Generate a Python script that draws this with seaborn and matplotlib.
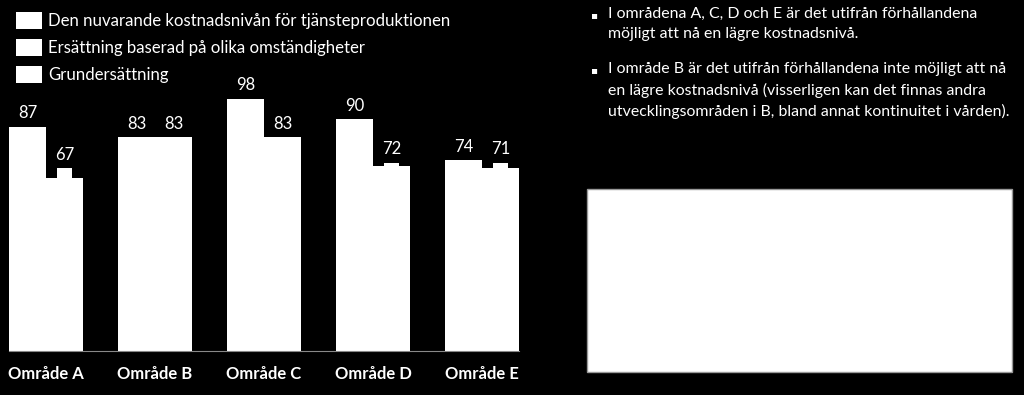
import numpy as np
import pandas as pd
import matplotlib.pyplot as plt
import seaborn as sns
from matplotlib.patches import Patch, Rectangle

# data
omraden = ['Område A', 'Område B', 'Område C', 'Område D', 'Område E']
nuvarande = [87, 83, 98, 90, 74]
ersattning = [67, 83, 83, 72, 71]
grund = [71, 73, 73, 73, 73]
serier = ['Den nuvarande kostnadsnivån för tjänsteproduktionen',
          'Ersättning baserad på olika omständigheter',
          'Grundersättning']
punkter = ['I områdena A, C, D och E är det utifrån förhållandena\nmöjligt att nå en lägre kostnadsnivå.',
           'I område B är det utifrån förhållandena inte möjligt att nå\nen lägre kostnadsnivå (visserligen kan det finnas andra\nutvecklingsområden i B, bland annat kontinuitet i vården).']

df = pd.DataFrame({'Område': omraden * 2,
                   'Serie': [serier[0]] * 5 + [serier[1]] * 5,
                   'Värde': nuvarande + ersattning})

plt.rcParams['font.family'] = ['Lato', 'DejaVu Sans']
W, H = 1024, 395
fig = plt.figure(figsize=(W / 100, H / 100), dpi=100)
fig.set_facecolor('black')

ax = fig.add_axes([0, 44 / H, 560 / W, 351 / H])
ax.set_facecolor('black')
sns.barplot(data=df, x='Område', y='Värde', hue='Serie', palette=['white', 'white'],
            width=0.68, edgecolor='none', linewidth=0, legend=False, ax=ax)
x = np.arange(len(omraden))
ax.bar(x + 0.17, grund, width=0.13, color='white', linewidth=0)

# value labels
for i in range(len(omraden)):
    ax.annotate(str(nuvarande[i]), (i - 0.17, nuvarande[i]), xytext=(0, 4),
                textcoords='offset points', ha='center', va='bottom', color='white', fontsize=12)
    top = max(ersattning[i], grund[i])
    ax.annotate(str(ersattning[i]), (i + 0.17, top), xytext=(0, 4),
                textcoords='offset points', ha='center', va='bottom', color='white', fontsize=12)

ax.set_xlim(-46 / 109, -46 / 109 + 560 / 109)
ax.set_ylim(0, 351 / 2.575)
ax.set_xlabel('')
ax.set_ylabel('')
ax.set_yticks([])
ax.tick_params(axis='x', length=0, pad=11, colors='white')
for lab in ax.get_xticklabels():
    lab.set_fontweight('bold')
    lab.set_fontsize(12)
for s in ['top', 'left', 'right']:
    ax.spines[s].set_visible(False)
ax.spines['bottom'].set_color('#888888')
ax.spines['bottom'].set_linewidth(0.8)
ax.spines['bottom'].set_bounds(-0.34, len(omraden) - 1 + 0.34)

# legend
handles = [Patch(facecolor='white', edgecolor='none') for _ in serier]
fig.legend(handles, serier, loc='upper left', bbox_to_anchor=(16 / W, 1 - 12 / H),
           frameon=False, fontsize=12.1, labelcolor='white', borderpad=0, borderaxespad=0,
           handlelength=1.55, handleheight=1.15, handletextpad=0.35, labelspacing=0.6)

# text on the right
ys = [7, 62]
for y, t in zip(ys, punkter):
    fig.text(590 / W, 1 - (y + 3) / H, '▪', color='white', fontsize=7.5, va='top',
             family=['DejaVu Sans'])
    fig.text(608 / W, 1 - y / H, t, color='white', fontsize=11.4, va='top', linespacing=1.55)

fig.patches.append(Rectangle((587 / W, 1 - 372 / H), 425 / W, 183 / H, transform=fig.transFigure,
                             facecolor='white', edgecolor='#999999', linewidth=1))

plt.savefig('out.png', dpi=100, facecolor='black')
